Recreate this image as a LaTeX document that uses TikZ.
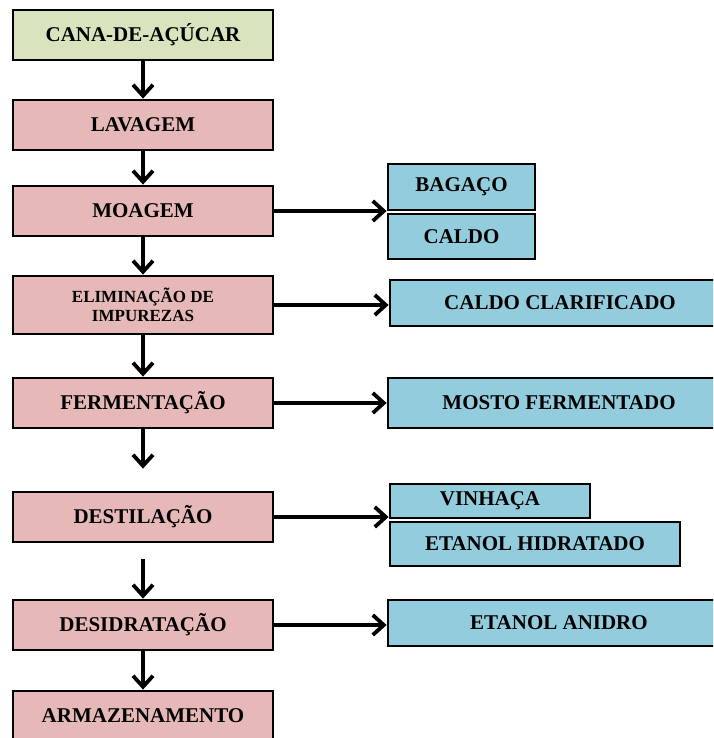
\documentclass[tikz,border=0pt]{standalone}
\usepackage{fontspec}
\setmainfont{Liberation Serif}
\usetikzlibrary{arrows.meta}
\usetikzlibrary{positioning}

\definecolor{canagreen}{RGB}{215,228,189}
\definecolor{etapapink}{RGB}{230,185,184}
\definecolor{produtoblue}{RGB}{147,205,221}

\tikzset{
    etapa/.style={draw, line width=2.8pt, fill=etapapink, minimum width=260pt,
        minimum height=50pt, inner sep=0pt, align=center,
        font=\bfseries\fontsize{21}{23}\selectfont},
    produto/.style={draw, line width=2.8pt, fill=produtoblue, minimum height=46pt,
        inner sep=0pt, font=\bfseries\fontsize{21}{23}\selectfont},
    seta/.style={line width=3.8pt, -{Straight Barb[length=11pt,width=20pt]}}
}

\begin{document}
\begin{tikzpicture}[x=1pt, y=-1pt]

    \clip (0,0) rectangle (713,738);

    % Etapas do processo
    \node[etapa, fill=canagreen] (cana) at (143,35) {CANA-DE-AÇÚCAR};
    \node[etapa] (lavagem) at (143,125) {LAVAGEM};
    \node[etapa] (moagem) at (143,211) {MOAGEM};
    \node[etapa, minimum height=58pt, font=\bfseries\fontsize{17}{19}\selectfont]
        (eliminacao) at (143,305) {ELIMINAÇÃO DE\\IMPUREZAS};
    \node[etapa] (fermentacao) at (143,403) {FERMENTAÇÃO};
    \node[etapa] (destilacao) at (143,517) {DESTILAÇÃO};
    \node[etapa] (desidratacao) at (143,625) {DESIDRATAÇÃO};
    \node[etapa] (armazenamento) at (143,716) {ARMAZENAMENTO};

    % Produtos
    \node[produto, minimum width=147pt] (bagaco) at (461.5,187) {BAGAÇO};
    \node[produto, minimum width=147pt, minimum height=45pt] (caldo) at (461.5,236.5) {CALDO};
    \node[produto, minimum width=340pt] (clarificado) at (560,303) {CALDO CLARIFICADO};
    \node[produto, minimum width=342pt, minimum height=50pt] (mosto) at (559,403) {MOSTO FERMENTADO};
    \node[produto, minimum width=200pt, minimum height=34pt] (vinhaca) at (490,501) {VINHAÇA};
    \node[produto, minimum width=290pt, minimum height=44pt] (hidratado) at (535,544) {ETANOL HIDRATADO};
    \node[produto, minimum width=342pt] (anidro) at (559,623) {ETANOL ANIDRO};

    % Setas verticais
    \draw[seta] (cana) -- (lavagem);
    \draw[seta] (lavagem) -- (moagem);
    \draw[seta] (moagem) -- (eliminacao);
    \draw[seta] (eliminacao) -- (fermentacao);
    \draw[seta, shorten >=22pt] (fermentacao) -- (destilacao);
    \draw[seta, shorten <=16pt] (destilacao) -- (desidratacao);
    \draw[seta] (desidratacao) -- (armazenamento);

    % Setas horizontais
    \draw[seta] (moagem) -- (moagem -| bagaco.west);
    \draw[seta] (eliminacao) -- (eliminacao -| clarificado.west);
    \draw[seta] (fermentacao) -- (mosto);
    \draw[seta] (destilacao) -- (destilacao -| vinhaca.west);
    \draw[seta] (desidratacao) -- (desidratacao -| anidro.west);

\end{tikzpicture}
\end{document}
